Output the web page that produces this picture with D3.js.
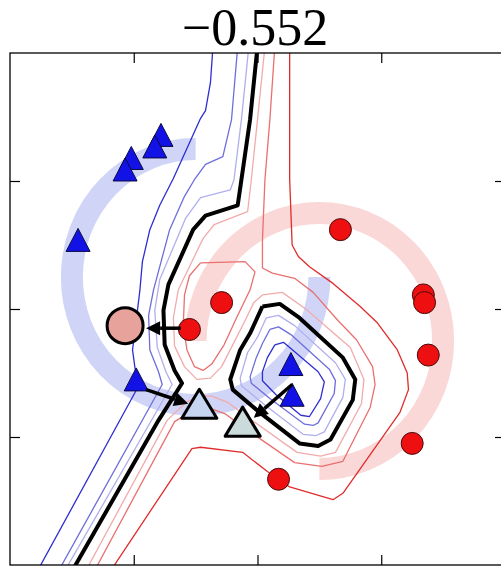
<!DOCTYPE html>
<html>
<head>
<meta charset="utf-8">
<script src="https://cdn.jsdelivr.net/npm/d3@7"></script>
<style>
  html, body { margin: 0; padding: 0; background: #fff; }
  svg { display: block; }
</style>
</head>
<body>
<div class="chart"></div>
<script>
// axis ticks (no labels are shown) and title
const xTicks = [-1, 0, 1]
const yTicks = [-1, 0, 1]
const titleText = "\u22120.552"

// training points
const bluePoints = [[-0.78, 1.36], [-0.83, 1.27], [-1.02, 1.18], [-1.07, 1.09], [-1.45, 0.54],
  [-0.98, -0.55], [0.27, -0.43], [0.28, -0.67]]
const redPoints = [[0.67, 0.62], [1.34, 0.11], [1.35, 0.05], [1.38, -0.36], [1.25, -1.05],
  [0.17, -1.33], [-0.29, 0.05], [-0.55, -0.16]]

// adversarial examples and the arrows leading to them
const advCircles = [[-1.07, -0.13]]
const advTriangles = [[-0.47, -0.74], [-0.12, -0.88]]
const arrowStarts = [[-0.62, -0.15], [-0.90, -0.63], [0.28, -0.59]]
const arrowEnds = [[-0.90, -0.15], [-0.56, -0.74], [-0.03, -0.85]]

// the two moons (underlying data manifold)
const moonCenters = [[-0.5, 0.25], [0.5, -0.25]]
const moonRadius = 1
const moonAngles = [[90, 360], [-90, 180]]

// contour levels of the decision function
const levels = [-3, -2, -1, 0, 1, 2, 3]

const b3Left = [[-0.36, 2.05], [-0.38, 1.77], [-0.42, 1.55], [-0.46, 1.49], [-0.68, 1.02], [-0.79, 0.81],
  [-0.87, 0.62], [-0.93, 0.37], [-0.95, 0.15], [-0.98, -0.09], [-1.01, -0.32], [-0.99, -0.46],
  [-0.96, -0.60], [-1.78, -2.05]]
const b2Left = [[-0.16, 2.05], [-0.21, 1.48], [-0.28, 1.19], [-0.42, 1.13], [-0.51, 1.01], [-0.59, 0.88],
  [-0.71, 0.62], [-0.84, 0.15], [-0.88, -0.05], [-0.87, -0.32], [-0.80, -0.49], [-0.77, -0.59],
  [-1.61, -2.05]]
const b1Left = [[-0.07, 2.05], [-0.13, 1.48], [-0.19, 1.01], [-0.22, 0.93], [-0.46, 0.87], [-0.58, 0.71],
  [-0.79, 0.23], [-0.83, -0.01], [-0.81, -0.30], [-0.74, -0.49], [-0.69, -0.59], [-1.56, -2.05]]
const kLeft = [[0.00, 2.05], [-0.06, 1.48], [-0.13, 1.01], [-0.16, 0.81], [-0.42, 0.73], [-0.52, 0.62],
  [-0.72, 0.19], [-0.76, -0.01], [-0.75, -0.28], [-0.67, -0.48], [-0.61, -0.58], [-0.80, -0.87],
  [-1.50, -2.05]]

const kIsland = [[0.04, 0.02], [0.18, 0.04], [0.34, -0.07], [0.69, -0.38], [0.79, -0.55], [0.77, -0.71],
  [0.59, -1.02], [0.49, -1.07], [0.34, -1.05], [0.02, -0.81], [-0.20, -0.63], [-0.22, -0.55],
  [-0.14, -0.32], [-0.06, -0.19], [0.04, 0.02]]
const b1Island = [[0.07, -0.07], [0.17, -0.05], [0.30, -0.13], [0.63, -0.42], [0.71, -0.55], [0.69, -0.69],
  [0.54, -0.96], [0.47, -0.99], [0.37, -0.98], [0.06, -0.75], [-0.13, -0.60], [-0.14, -0.54],
  [-0.08, -0.34], [0.00, -0.22], [0.07, -0.07]]
const b2Island = [[0.10, -0.16], [0.17, -0.14], [0.27, -0.20], [0.58, -0.47], [0.63, -0.56], [0.62, -0.66],
  [0.49, -0.89], [0.45, -0.91], [0.38, -0.90], [0.10, -0.70], [-0.05, -0.58], [-0.06, -0.53],
  [-0.01, -0.38], [0.04, -0.27], [0.10, -0.16]]
const b3Island = [[0.14, -0.28], [0.21, -0.26], [0.49, -0.49], [0.54, -0.57], [0.51, -0.70], [0.42, -0.84],
  [0.35, -0.83], [0.15, -0.67], [0.04, -0.56], [0.04, -0.49], [0.08, -0.38], [0.14, -0.28]]

const r1Path = [[0.06, 2.05], [0.00, 1.48], [-0.05, 1.01], [-0.08, 0.76], [-0.35, 0.66], [-0.44, 0.55],
  [-0.64, 0.15], [-0.68, -0.07], [-0.67, -0.29], [-0.59, -0.45], [-0.49, -0.55], [-0.38, -0.54],
  [-0.29, -0.45], [-0.20, -0.28], [-0.10, -0.09], [-0.03, 0.05], [0.04, 0.11], [0.20, 0.13],
  [0.39, 0.00], [0.75, -0.30], [0.86, -0.55], [0.84, -0.74], [0.63, -1.12], [0.51, -1.15],
  [0.32, -1.12], [-0.03, -0.88], [-0.24, -0.73], [-0.37, -0.68], [-0.46, -0.68], [-0.58, -0.73],
  [-0.73, -0.87], [-1.39, -2.05]]
const r2Path = [[0.14, 2.05], [0.10, 1.48], [0.06, 1.01], [0.04, 0.54], [0.04, 0.32], [0.12, 0.28],
  [0.30, 0.24], [0.45, 0.13], [0.65, -0.09], [0.80, -0.24], [0.93, -0.45], [0.95, -0.59],
  [0.91, -0.77], [0.69, -1.19], [0.52, -1.23], [0.30, -1.20], [-0.06, -0.96], [-0.26, -0.82],
  [-0.40, -0.77], [-0.52, -0.79], [-0.67, -0.88], [-1.32, -2.05]]
const r2Loop = [[-0.46, 0.36], [-0.10, 0.37], [-0.02, 0.29], [-0.06, 0.15], [-0.17, -0.07], [-0.27, -0.28],
  [-0.37, -0.43], [-0.44, -0.48], [-0.51, -0.45], [-0.57, -0.32], [-0.60, -0.13], [-0.59, 0.11],
  [-0.55, 0.26], [-0.46, 0.36]]
const r3Path = [[0.26, 2.05], [0.26, 1.01], [0.28, 0.50], [0.33, 0.41], [0.42, 0.33], [0.61, 0.20],
  [0.83, 0.02], [0.97, -0.11], [1.13, -0.32], [1.21, -0.50], [1.22, -0.63], [1.15, -0.81],
  [0.69, -1.44], [0.61, -1.49], [0.26, -1.39], [0.08, -1.27], [-0.12, -1.12], [-0.46, -1.08],
  [-0.53, -1.09], [-1.19, -2.05]]

const contourLines = [
  [-3, b3Left], [-3, b3Island],
  [-2, b2Left], [-2, b2Island],
  [-1, b1Left], [-1, b1Island],
  [1, r1Path], [2, r2Path], [2, r2Loop], [3, r3Path],
  [0, kLeft], [0, kIsland]
]

// ---- drawing ----
const width = 501
const height = 566

const x = d3.scaleLinear().domain([-2, 2]).range([10, 505])
const y = d3.scaleLinear().domain([-2, 2]).range([565, 53])

const levelColor = d3.scaleOrdinal()
  .domain(levels)
  .range(["#2e2ed3", "#6d6ddc", "#afafee", "#000000", "#f2abab", "#ea6f6f", "#e02b2b"])

const svg = d3.select(".chart").append("svg")
  .attr("width", width)
  .attr("height", height)
  .attr("viewBox", [0, 0, width, height])

svg.append("defs").append("clipPath")
  .attr("id", "plot-clip")
  .append("rect")
  .attr("x", x(-2)).attr("y", y(2))
  .attr("width", x(2) - x(-2)).attr("height", y(-2) - y(2))

const plot = svg.append("g").attr("clip-path", "url(#plot-clip)")

// moon bands
const moonColors = ["#d0d5f7", "#fbd8d8"]
const rx = x(moonRadius) - x(0)
const ry = y(0) - y(moonRadius)
plot.append("g")
  .attr("fill", "none")
  .attr("stroke-width", 22)
  .attr("stroke-linecap", "butt")
  .selectAll("path")
  .data(moonCenters)
  .join("path")
    .attr("stroke", (d, i) => moonColors[i])
    .attr("d", (c, i) => {
      const [a0, a1] = moonAngles[i].map(a => a * Math.PI / 180)
      const sx = x(c[0] + moonRadius * Math.cos(a0)), sy = y(c[1] + moonRadius * Math.sin(a0))
      const ex = x(c[0] + moonRadius * Math.cos(a1)), ey = y(c[1] + moonRadius * Math.sin(a1))
      return `M${sx},${sy}A${rx},${ry} 0 1 0 ${ex},${ey}`
    })

// contours
const line = d3.line().x(d => x(d[0])).y(d => y(d[1]))
plot.append("g")
  .attr("fill", "none")
  .attr("stroke-linejoin", "round")
  .selectAll("path")
  .data(contourLines)
  .join("path")
    .attr("stroke", d => levelColor(d[0]))
    .attr("stroke-width", d => d[0] === 0 ? 4 : 1.3)
    .attr("d", d => line(d[1]))

// markers
const triangle = (w, h) => `M0,${-h}L${w},${h}L${-w},${h}Z`

plot.append("g")
  .selectAll("circle")
  .data(redPoints)
  .join("circle")
    .attr("cx", d => x(d[0]))
    .attr("cy", d => y(d[1]))
    .attr("r", 11)
    .attr("fill", "#ee1010")
    .attr("stroke", "#4a0a0a")
    .attr("stroke-width", 1)

plot.append("g")
  .selectAll("path")
  .data(bluePoints)
  .join("path")
    .attr("transform", d => `translate(${x(d[0])},${y(d[1])})`)
    .attr("d", triangle(12, 11.5))
    .attr("fill", "#1212e6")
    .attr("stroke", "#0a0a40")
    .attr("stroke-width", 1)

// arrows
const arrows = arrowStarts.map((s, i) => [s, arrowEnds[i]])
const ag = plot.append("g")
arrows.forEach(([s, e]) => {
  const x1 = x(s[0]), y1 = y(s[1]), x2 = x(e[0]), y2 = y(e[1])
  const ang = Math.atan2(y2 - y1, x2 - x1)
  const hl = 14, hw = 7
  const bx = x2 - hl * Math.cos(ang), by = y2 - hl * Math.sin(ang)
  ag.append("line")
    .attr("x1", x1).attr("y1", y1).attr("x2", bx).attr("y2", by)
    .attr("stroke", "#000").attr("stroke-width", 3.5)
  ag.append("path")
    .attr("d", `M${x2},${y2}L${bx + hw * Math.sin(ang)},${by - hw * Math.cos(ang)}L${bx - hw * Math.sin(ang)},${by + hw * Math.cos(ang)}Z`)
    .attr("fill", "#000")
})

// adversarial examples
plot.append("g")
  .selectAll("circle")
  .data(advCircles)
  .join("circle")
    .attr("cx", d => x(d[0]))
    .attr("cy", d => y(d[1]))
    .attr("r", 18)
    .attr("fill", "#e8a29c")
    .attr("stroke", "#000")
    .attr("stroke-width", 3)

const advFill = ["#c6d6f1", "#cbdada"]
plot.append("g")
  .selectAll("path")
  .data(advTriangles)
  .join("path")
    .attr("transform", d => `translate(${x(d[0])},${y(d[1])})`)
    .attr("d", triangle(17.5, 14.5))
    .attr("fill", (d, i) => advFill[i])
    .attr("stroke", "#000")
    .attr("stroke-width", 3)
    .attr("stroke-linejoin", "round")

// frame and inward ticks
const axes = svg.append("g")
axes.append("g")
  .attr("transform", `translate(0,${y(-2)})`)
  .call(d3.axisBottom(x).tickValues(xTicks).tickSize(-10).tickSizeOuter(0).tickFormat(""))
axes.append("g")
  .attr("transform", `translate(0,${y(2)})`)
  .call(d3.axisTop(x).tickValues(xTicks).tickSize(-10).tickSizeOuter(0).tickFormat(""))
axes.append("g")
  .attr("transform", `translate(${x(-2)},0)`)
  .call(d3.axisLeft(y).tickValues(yTicks).tickSize(-10).tickSizeOuter(0).tickFormat(""))
axes.append("g")
  .attr("transform", `translate(${x(2)},0)`)
  .call(d3.axisRight(y).tickValues(yTicks).tickSize(-10).tickSizeOuter(0).tickFormat(""))
axes.selectAll(".domain").remove()
axes.selectAll(".tick line").attr("stroke", "#000").attr("stroke-width", 1.2)

axes.append("rect")
  .attr("x", x(-2)).attr("y", y(2))
  .attr("width", x(2) - x(-2)).attr("height", y(-2) - y(2))
  .attr("fill", "none")
  .attr("stroke", "#000")
  .attr("stroke-width", 1.3)

svg.append("text")
  .attr("x", 255)
  .attr("y", 45)
  .attr("text-anchor", "middle")
  .attr("font-family", "Liberation Serif, serif")
  .attr("font-size", 52)
  .attr("fill", "#000")
  .text(titleText)
</script>
</body>
</html>
